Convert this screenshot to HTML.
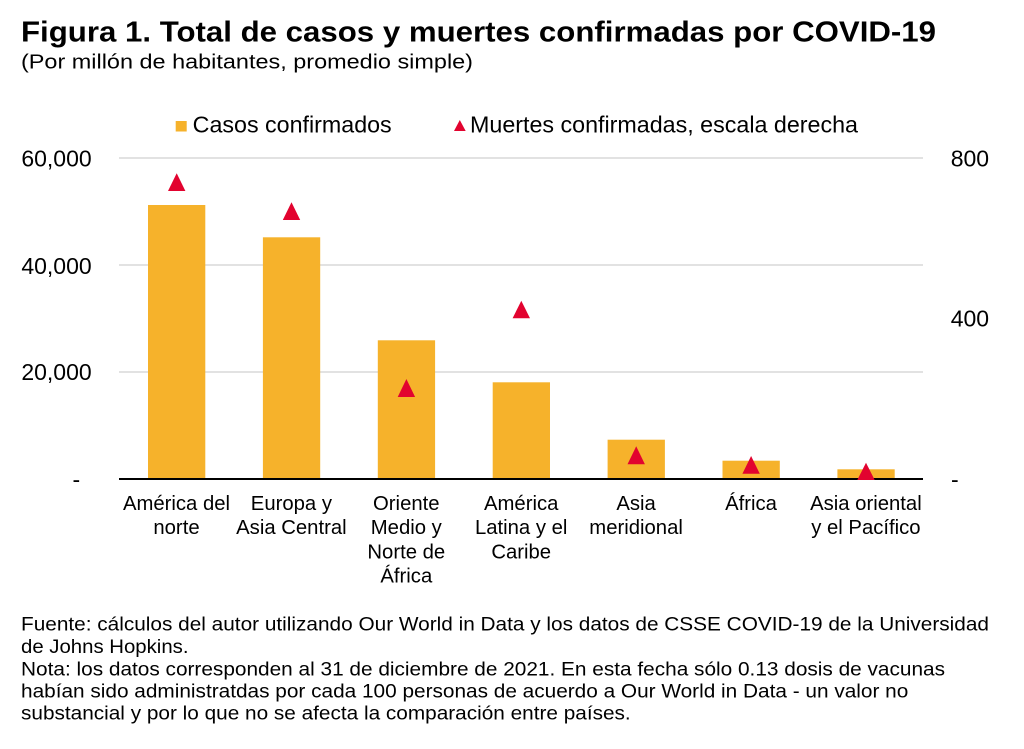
<!DOCTYPE html>
<html>
<head>
<meta charset="utf-8">
<style>
  html,body{margin:0;padding:0;background:#fff;}
  svg{display:block;}
  text{font-family:"Liberation Sans", Arial, Helvetica, sans-serif; fill:#000;}
</style>
</head>
<body>
<svg width="1024" height="749" viewBox="0 0 1024 749" xmlns="http://www.w3.org/2000/svg">
  <rect x="0" y="0" width="1024" height="749" fill="#fff"/>

  <!-- Title -->
  <text x="21" y="41.7" font-size="29" font-weight="bold" textLength="915" lengthAdjust="spacingAndGlyphs">Figura 1. Total de casos y muertes confirmadas por COVID-19</text>
  <text x="21" y="68.3" font-size="20.5" textLength="452" lengthAdjust="spacingAndGlyphs">(Por millón de habitantes, promedio simple)</text>

  <!-- Legend -->
  <rect x="175.7" y="121" width="11" height="10.5" fill="#F6B22B"/>
  <text x="192.7" y="132.7" font-size="23" textLength="199" lengthAdjust="spacingAndGlyphs">Casos confirmados</text>
  <polygon points="459.8,120 465.7,131 454,131" fill="#E2032F"/>
  <text x="470" y="132.7" font-size="23" textLength="388" lengthAdjust="spacingAndGlyphs">Muertes confirmadas, escala derecha</text>

  <!-- Gridlines -->
  <g stroke="#d9d9d9" stroke-width="1.6">
    <line x1="119" y1="158" x2="923" y2="158"/>
    <line x1="119" y1="265" x2="923" y2="265"/>
    <line x1="119" y1="372" x2="923" y2="372"/>
  </g>

  <!-- Bars -->
  <g fill="#F6B22B">
    <rect x="148" y="205" width="57.3" height="274"/>
    <rect x="262.9" y="237.3" width="57.3" height="241.7"/>
    <rect x="377.8" y="340.3" width="57.3" height="138.7"/>
    <rect x="492.7" y="382.3" width="57.3" height="96.7"/>
    <rect x="607.6" y="439.7" width="57.3" height="39.3"/>
    <rect x="722.5" y="460.7" width="57.3" height="18.3"/>
    <rect x="837.4" y="469.3" width="57.3" height="9.7"/>
  </g>

  <!-- Axis line -->
  <line x1="119" y1="479" x2="923" y2="479" stroke="#000" stroke-width="2"/>

  <!-- Triangles -->
  <g fill="#E2032F">
    <polygon points="176.7,173.3 185.4,191 168,191"/>
    <polygon points="291.5,202.3 300.2,220 282.8,220"/>
    <polygon points="406.4,379 415.1,397 397.7,397"/>
    <polygon points="521.3,300.7 530,318.3 512.6,318.3"/>
    <polygon points="636.2,446.3 644.9,464.3 627.5,464.3"/>
    <polygon points="751.1,456 759.8,473.7 742.4,473.7"/>
    <polygon points="866,462.7 874.7,480 857.3,480"/>
  </g>

  <!-- Left axis labels -->
  <g font-size="23" text-anchor="end">
    <text x="91.7" y="166.7">60,000</text>
    <text x="91.7" y="274">40,000</text>
    <text x="91.7" y="380">20,000</text>
  </g>
  <text x="72.5" y="487.5" font-size="23">-</text>

  <!-- Right axis labels -->
  <g font-size="23">
    <text x="950.7" y="166.7">800</text>
    <text x="950.7" y="326.7">400</text>
    <text x="951" y="487.5">-</text>
  </g>

  <!-- Category labels -->
  <g font-size="20.3" text-anchor="middle">
    <text x="176.5" y="510">América del</text>
    <text x="176.5" y="534">norte</text>

    <text x="291.4" y="510">Europa y</text>
    <text x="291.4" y="534">Asia Central</text>

    <text x="406.3" y="510">Oriente</text>
    <text x="406.3" y="534">Medio y</text>
    <text x="406.3" y="558.5">Norte de</text>
    <text x="406.3" y="582.5">África</text>

    <text x="521.2" y="510">América</text>
    <text x="521.2" y="534">Latina y el</text>
    <text x="521.2" y="558.5">Caribe</text>

    <text x="636.1" y="510">Asia</text>
    <text x="636.1" y="534">meridional</text>

    <text x="751" y="510">África</text>

    <text x="865.9" y="510">Asia oriental</text>
    <text x="865.9" y="534">y el Pacífico</text>
  </g>

  <!-- Footnotes -->
  <g font-size="19.3">
    <text x="21" y="630.7" textLength="968" lengthAdjust="spacingAndGlyphs">Fuente: cálculos del autor utilizando Our World in Data y los datos de CSSE COVID-19 de la Universidad</text>
    <text x="21" y="653" textLength="167.5" lengthAdjust="spacingAndGlyphs">de Johns Hopkins.</text>
    <text x="21" y="675.3" textLength="924" lengthAdjust="spacingAndGlyphs">Nota: los datos corresponden al 31 de diciembre de 2021. En esta fecha sólo 0.13 dosis de vacunas</text>
    <text x="21" y="697.5" textLength="887.3" lengthAdjust="spacingAndGlyphs">habían sido administratdas por cada 100 personas de acuerdo a Our World in Data - un valor no</text>
    <text x="21" y="719.7" textLength="609.7" lengthAdjust="spacingAndGlyphs">substancial y por lo que no se afecta la comparación entre países.</text>
  </g>
</svg>
</body>
</html>
